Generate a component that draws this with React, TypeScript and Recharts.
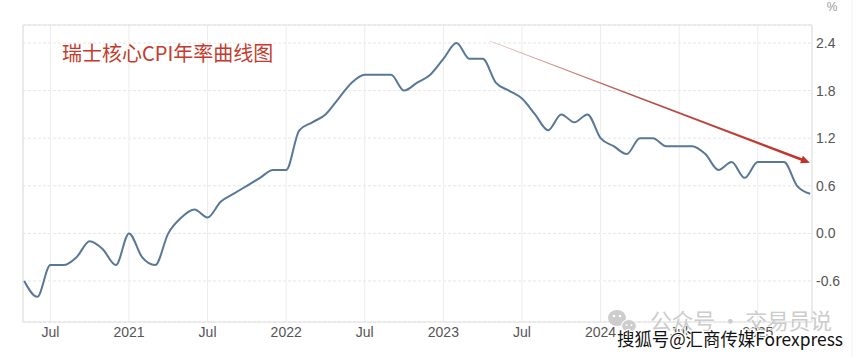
import React from 'react';
import { LineChart, Line, XAxis, YAxis, CartesianGrid, ReferenceLine, ReferenceArea } from 'recharts';

// Monthly Swiss core CPI YoY (%), May 2020 – May 2025
const months: string[] = [
  '2020-05', '2020-06', '2020-07', '2020-08', '2020-09', '2020-10', '2020-11', '2020-12',
  '2021-01', '2021-02', '2021-03', '2021-04', '2021-05', '2021-06', '2021-07', '2021-08', '2021-09', '2021-10', '2021-11', '2021-12',
  '2022-01', '2022-02', '2022-03', '2022-04', '2022-05', '2022-06', '2022-07', '2022-08', '2022-09', '2022-10', '2022-11', '2022-12',
  '2023-01', '2023-02', '2023-03', '2023-04', '2023-05', '2023-06', '2023-07', '2023-08', '2023-09', '2023-10', '2023-11', '2023-12',
  '2024-01', '2024-02', '2024-03', '2024-04', '2024-05', '2024-06', '2024-07', '2024-08', '2024-09', '2024-10', '2024-11', '2024-12',
  '2025-01', '2025-02', '2025-03', '2025-04', '2025-05',
];

const coreCpi: number[] = [
  -0.6, -0.8, -0.4, -0.4, -0.3, -0.1, -0.2, -0.4,
  0.0, -0.3, -0.4, 0.0, 0.2, 0.3, 0.2, 0.4, 0.5, 0.6, 0.7, 0.8,
  0.8, 1.3, 1.4, 1.5, 1.7, 1.9, 2.0, 2.0, 2.0, 1.8, 1.9, 2.0,
  2.2, 2.4, 2.2, 2.2, 1.9, 1.8, 1.7, 1.5, 1.3, 1.5, 1.4, 1.5,
  1.2, 1.1, 1.0, 1.2, 1.2, 1.1, 1.1, 1.1, 1.0, 0.8, 0.9, 0.7,
  0.9, 0.9, 0.9, 0.6, 0.5,
];

const xTickMonths: string[] = ['2020-07', '2021-01', '2021-07', '2022-01', '2022-07', '2023-01', '2023-07', '2024-01', '2024-07', '2025-01'];
const xTickLabels: string[] = ['Jul', '2021', 'Jul', '2022', 'Jul', '2023', 'Jul', '2024', 'Jul', '2025'];
const yTicks: number[] = [-0.6, 0.0, 0.6, 1.2, 1.8, 2.4];

// Trend arrow annotation (from Feb 2023 peak region toward latest reading)
const arrowStart = { x: 35.56, y: 2.425 };
const arrowEnd = { x: 59.98, y: 0.891 };

const data = coreCpi.map((v, i) => ({ i, month: months[i], v }));
const xTicks = xTickMonths.map((m) => months.indexOf(m));
const labelByIndex: Record<number, string> = {};
xTicks.forEach((t, k) => { labelByIndex[t] = xTickLabels[k]; });

const X_DOMAIN: [number, number] = [-0.09, 60.14];
const Y_DOMAIN: [number, number] = [-1.117, 2.627];

const FONT = '"Liberation Sans", Arial, sans-serif';

const ArrowShape = (props: any) => {
  const { x1, y1, x2, y2 } = props;
  if ([x1, y1, x2, y2].some((n) => typeof n !== 'number' || isNaN(n))) return <g />;
  const dx = x2 - x1, dy = y2 - y1;
  const len = Math.hypot(dx, dy);
  const ux = dx / len, uy = dy / len;
  const nx = -uy, ny = ux;
  const headLen = 9, headW = 4;
  const w0 = 0.35, w1 = 1.3;
  const bx = x2 - ux * headLen, by = y2 - uy * headLen;
  const pts = [
    [x1 + nx * w0, y1 + ny * w0],
    [bx + nx * w1, by + ny * w1],
    [bx + nx * headW, by + ny * headW],
    [x2, y2],
    [bx - nx * headW, by - ny * headW],
    [bx - nx * w1, by - ny * w1],
    [x1 - nx * w0, y1 - ny * w0],
  ].map((p) => p.join(',')).join(' ');
  return (
    <g>
      <defs>
        <linearGradient id="arrowGrad" gradientUnits="userSpaceOnUse" x1={x1} y1={y1} x2={x2} y2={y2}>
          <stop offset="0%" stopColor="#e9b4b0" />
          <stop offset="45%" stopColor="#b4544c" />
          <stop offset="100%" stopColor="#c4302a" />
        </linearGradient>
      </defs>
      <polygon points={pts} fill="url(#arrowGrad)" />
    </g>
  );
};

export default function App() {
  return (
    <div style={{ position: 'absolute', left: 0, top: 0, width: 862, height: 357, background: '#fff' }}>
      <LineChart
        width={862}
        height={357}
        data={data}
        margin={{ top: 25, right: 5, bottom: 5, left: 23 }}
      >
        <CartesianGrid horizontal={true} vertical={false} stroke="#e6e6e6" strokeDasharray="3 2" />
        <CartesianGrid horizontal={false} vertical={true} stroke="#ececec" />
        <XAxis
          dataKey="i"
          type="number"
          domain={X_DOMAIN}
          allowDataOverflow
          ticks={xTicks}
          tickFormatter={(t: number) => labelByIndex[t] ?? ''}
          interval={0}
          height={30}
          axisLine={false}
          tickLine={false}
          tickSize={0}
          tickMargin={5}
          tick={{ fill: '#555', fontSize: 14, fontFamily: FONT }}
        />
        <YAxis
          orientation="right"
          type="number"
          domain={Y_DOMAIN}
          allowDataOverflow
          ticks={yTicks}
          tickFormatter={(v: number) => v.toFixed(1)}
          width={45}
          axisLine={false}
          tickLine={false}
          tickSize={0}
          tickMargin={4}
          tick={{ fill: '#555', fontSize: 14, fontFamily: FONT, textAnchor: 'start' }}
        />
        <ReferenceArea
          x1={X_DOMAIN[0]}
          x2={X_DOMAIN[1]}
          y1={Y_DOMAIN[0]}
          y2={Y_DOMAIN[1]}
          fill="none"
          fillOpacity={0}
          stroke="#e0e0e0"
          strokeWidth={1}
          ifOverflow="visible"
        />
        <Line
          type="monotone"
          dataKey="v"
          stroke="#587895"
          strokeWidth={2}
          dot={false}
          activeDot={false}
          isAnimationActive={false}
        />
        <ReferenceLine
          segment={[arrowStart, arrowEnd]}
          ifOverflow="visible"
          shape={ArrowShape}
        />
      </LineChart>
      <svg
        width={862}
        height={357}
        style={{ position: 'absolute', left: 0, top: 0, pointerEvents: 'none' }}
      >
        <line x1={852} y1={0} x2={852} y2={357} stroke="#f0f0f0" strokeWidth={1} />
        <text x={62} y={61} fontSize={20} fill="#c33b2e" fontFamily='"Noto Sans CJK SC", sans-serif'>
          瑞士核心CPI年率曲线图
        </text>
        <text x={832} y={11} fontSize={12} fill="#999" fontFamily={FONT} textAnchor="middle">%</text>
        <g fill="#cdcdcd">
          <ellipse cx={617} cy={318} rx={9} ry={8} />
          <ellipse cx={629} cy={326} rx={7.5} ry={6.5} stroke="#fff" strokeWidth={1.2} />
        </g>
        <g fill="#fff">
          <circle cx={614} cy={316} r={1.3} />
          <circle cx={620} cy={316} r={1.3} />
          <circle cx={626.5} cy={325} r={1} />
          <circle cx={631.5} cy={325} r={1} />
        </g>
        <text x={650} y={329} fontSize={22} fill="#cccccc" fontFamily='"Noto Sans CJK SC", sans-serif' textLength={182} lengthAdjust="spacing">
          公众号 · 交易员说
        </text>
        <text
          x={617}
          y={346}
          fontSize={18}
          fill="#111"
          stroke="#fff"
          strokeWidth={2.5}
          paintOrder="stroke"
          fontFamily='"Noto Sans CJK SC", sans-serif'
          textLength={226}
          lengthAdjust="spacingAndGlyphs"
        >
          搜狐号@汇商传媒Forexpress
        </text>
      </svg>
    </div>
  );
}
